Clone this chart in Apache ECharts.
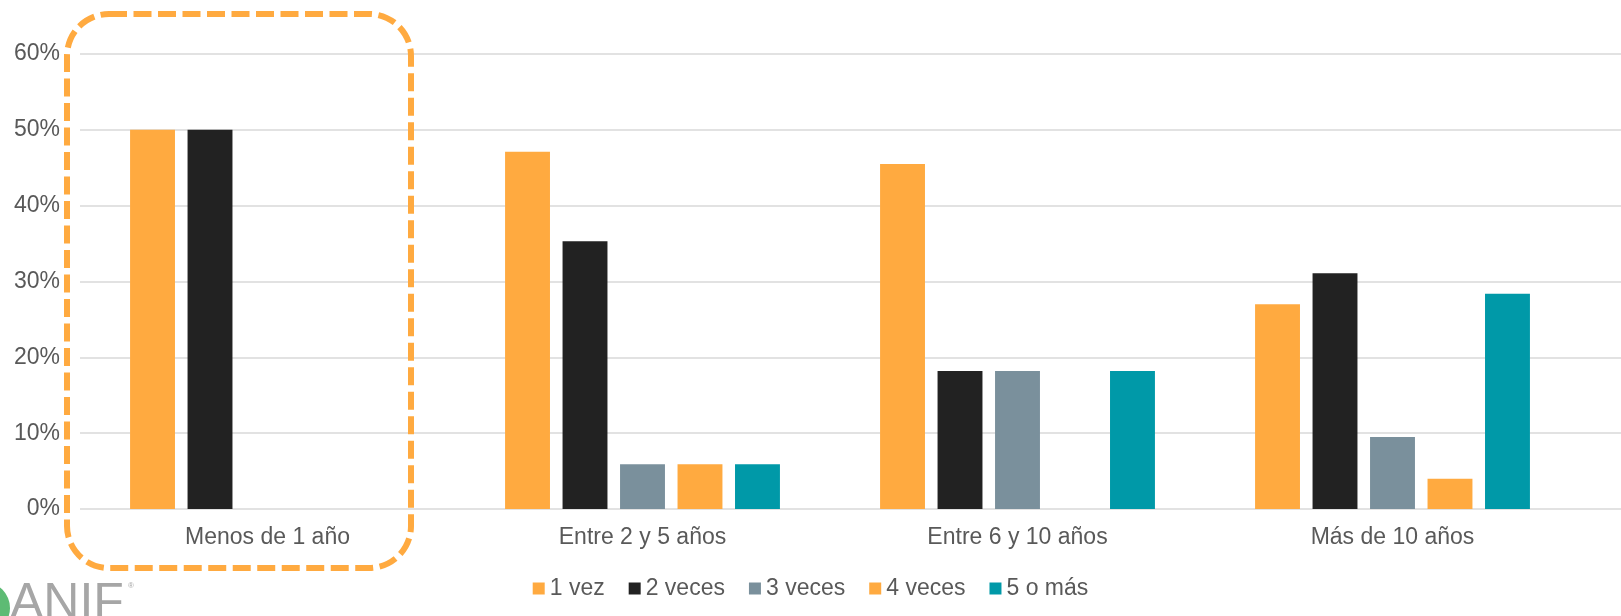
<!DOCTYPE html>
<html>
<head>
<meta charset="utf-8">
<script src="https://cdn.jsdelivr.net/npm/echarts@6/dist/echarts.min.js"></script>
<style>
html,body{margin:0;padding:0;background:#fff;}
#chart{width:1621px;height:616px;}
</style>
</head>
<body>
<div id="chart"></div>
<script>
const categories = ['Menos de 1 año', 'Entre 2 y 5 años', 'Entre 6 y 10 años', 'Más de 10 años'];
const seriesNames = ['1 vez', '2 veces', '3 veces', '4 veces', '5 o más'];
const vez1   = [50.0, 47.1, 45.5, 27.0];
const veces2 = [50.0, 35.3, 18.2, 31.1];
const veces3 = [0, 5.9, 18.2, 9.5];
const veces4 = [0, 5.9, 0, 4.0];
const mas5   = [0, 5.9, 18.2, 28.4];
const yTicks = [0, 10, 20, 30, 40, 50, 60];

const colors = ['#FFAA40', '#222222', '#7A909C', '#FFAA40', '#0099A8'];
const values = [vez1, veces2, veces3, veces4, mas5];

const font = 'Liberation Sans, Arial, sans-serif';
const chart = echarts.init(document.getElementById('chart'));

const series = seriesNames.map((name, i) => ({
  name: name,
  type: 'bar',
  xAxisIndex: 0,
  yAxisIndex: 0,
  data: values[i].map(v => v === 0 ? null : v),
  itemStyle: { color: colors[i] },
  barGap: '28%',
  barCategoryGap: '26.7%',
  emphasis: { disabled: true }
}));

chart.setOption({
  animation: false,
  backgroundColor: '#fff',
  color: colors,
  grid: [
    { left: 80, right: 41, top: 54, bottom: 107, containLabel: false },
    { left: 80, right: 0, top: 54, bottom: 107, containLabel: false }
  ],
  legend: {
    data: seriesNames,
    top: 572,
    left: 'center',
    icon: 'rect',
    itemWidth: 12,
    itemHeight: 12,
    itemGap: 24,
    textStyle: { fontFamily: font, fontSize: 23, color: '#595959', padding: [0, 0, 0, 0] }
  },
  xAxis: [
    {
      type: 'category', gridIndex: 0, data: categories,
      axisLine: { show: false }, axisTick: { show: false },
      axisLabel: { fontFamily: font, fontSize: 23, color: '#595959', margin: 17 }
    },
    { type: 'category', gridIndex: 1, data: [''], show: false }
  ],
  yAxis: [
    {
      type: 'value', gridIndex: 0, min: 0, max: 60, interval: 10,
      axisLine: { show: false }, axisTick: { show: false },
      splitLine: { show: false },
      axisLabel: { fontFamily: font, fontSize: 23, color: '#595959', margin: 20, formatter: v => v + '%' }
    },
    {
      type: 'value', gridIndex: 1, min: 0, max: 60, interval: 10,
      axisLine: { show: false }, axisTick: { show: false }, axisLabel: { show: false },
      splitLine: { show: true, lineStyle: { color: '#D9D9D9', width: 1.5 } }
    }
  ],
  series: series,
  graphic: [
    {
      type: 'rect', z: 100,
      shape: { x: 67, y: 14, width: 344, height: 554, r: 42 },
      style: { fill: 'none', stroke: '#FFAA40', lineWidth: 6, lineDash: [18, 6.5] }
    },
    {
      type: 'circle', z: 50,
      shape: { cx: -16, cy: 608, r: 26 },
      style: { fill: '#5DBB74' }
    },
    {
      type: 'text', z: 50, left: 10, top: 579,
      style: { text: 'ANIF', font: '50px Liberation Sans', fill: '#A6A6A6' }
    },
    {
      type: 'text', z: 50, left: 128, top: 582,
      style: { text: '®', font: '8px Liberation Sans', fill: '#A6A6A6' }
    }
  ]
});
</script>
</body>
</html>
